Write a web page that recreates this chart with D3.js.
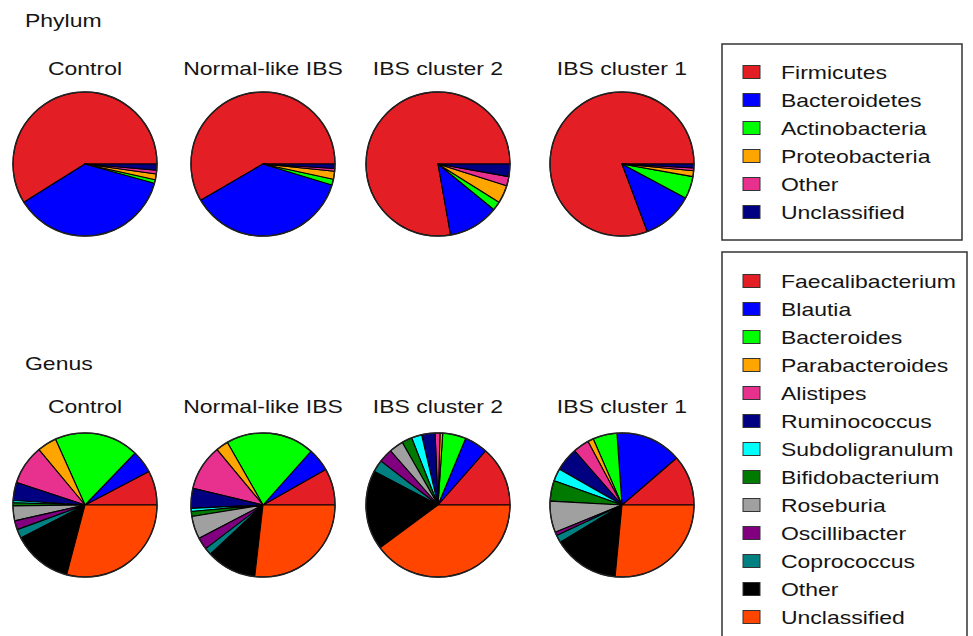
<!DOCTYPE html>
<html>
<head>
<meta charset="utf-8">
<script src="https://cdn.jsdelivr.net/npm/d3@7"></script>
<style>
  html, body { margin: 0; padding: 0; background: #fff; }
  svg { display: block; font-family: "Liberation Sans", Arial, sans-serif; }
</style>
</head>
<body>
<svg id="chart" width="973" height="636"></svg>
<script>
// ---- Data ----
const groups = ["Control", "Normal-like IBS", "IBS cluster 2", "IBS cluster 1"];

const phylumNames = ["Firmicutes", "Bacteroidetes", "Actinobacteria", "Proteobacteria", "Other", "Unclassified"];
const phylumColors = ["#e31e24", "#0000ff", "#00ff00", "#ffa500", "#e8318f", "#000080"];

const phylumControl    = [58.9, 36.8, 0.8, 1.3, 0.8, 1.4];
const phylumNormalLike = [58.4, 36.9, 1.3, 1.8, 0.6, 1.0];
const phylumCluster2   = [77.8, 11.3, 2.0, 4.0, 2.1, 2.8];
const phylumCluster1   = [80.7, 11.5, 5.0, 1.3, 0.6, 0.9];

const genusNames = ["Faecalibacterium", "Blautia", "Bacteroides", "Parabacteroides", "Alistipes",
  "Ruminococcus", "Subdoligranulum", "Bifidobacterium", "Roseburia", "Oscillibacter",
  "Coprococcus", "Other", "Unclassified"];
const genusColors = ["#e31e24", "#0000ff", "#00ff00", "#ffa500", "#e8318f", "#000080",
  "#00ffff", "#007a00", "#a0a0a0", "#800080", "#008080", "#000000", "#ff4500"];

const genusControl    = [7.6, 5.1, 18.7, 4.3, 8.8, 4.0, 0.5, 0.7, 3.3, 2.0, 2.0, 13.2, 28.8];
const genusNormalLike = [8.2, 5.2, 19.8, 2.8, 10.2, 4.5, 0.7, 1.1, 5.1, 2.7, 1.6, 11.2, 26.8];
const genusCluster2   = [13.5, 5.2, 5.2, 0.6, 1.1, 3.0, 2.3, 2.3, 3.2, 3.1, 2.7, 17.8, 39.8];
const genusCluster1   = [11.3, 14.8, 5.4, 1.3, 3.6, 5.3, 2.8, 4.6, 7.0, 0.8, 1.7, 14.8, 26.5];

const phylumData = [phylumControl, phylumNormalLike, phylumCluster2, phylumCluster1];
const genusData  = [genusControl, genusNormalLike, genusCluster2, genusCluster1];

// ---- Layout ----
const svg = d3.select("#chart");
const pieCentersX = [85, 263, 438, 622];
const rowY = { phylum: 164, genus: 505 };
const R = 72;
const FS = 19, SX = 1.21;

const xScale = d3.scaleOrdinal().domain(groups).range(pieCentersX);

// counter-clockwise from 3 o'clock (R-style pie)
const pie = d3.pie().sort(null).value(d => d)
  .startAngle(Math.PI / 2).endAngle(Math.PI / 2 - 2 * Math.PI);
const arc = d3.arc().innerRadius(0).outerRadius(R);

function label(x, y, str, anchor, dy) {
  const t = svg.append("text")
    .attr("transform", `translate(${x},${y}) scale(${SX},1)`)
    .attr("font-size", FS).attr("fill", "#151515")
    .attr("text-anchor", anchor || "start").text(str);
  if (dy) t.attr("dy", dy);
  return t;
}

function drawRow(title, titleY, data, colors, cy, labelY) {
  label(25, titleY, title);
  groups.forEach((g, i) => {
    const cx = xScale(g);
    label(cx, labelY, g, "middle");
    const gp = svg.append("g").attr("transform", `translate(${cx},${cy})`);
    gp.selectAll("path").data(pie(data[i])).join("path")
      .attr("d", arc)
      .attr("fill", (d, j) => colors[j])
      .attr("stroke", "#000").attr("stroke-width", 1.1).attr("stroke-linejoin", "round");
    gp.append("circle").attr("r", R).attr("fill", "none")
      .attr("stroke", "#222").attr("stroke-width", 1.4);
  });
}

drawRow("Phylum", 27, phylumData, phylumColors, rowY.phylum, 75);
drawRow("Genus", 370, genusData, genusColors, rowY.genus, 413);

// ---- Legends ----
function drawLegend(names, colors, box, firstY, step) {
  svg.append("rect").attr("x", box.x).attr("y", box.y).attr("width", box.w).attr("height", box.h)
    .attr("fill", "none").attr("stroke", "#333").attr("stroke-width", 1.5);
  const yS = d3.scalePoint().domain(names).range([firstY, firstY + step * (names.length - 1)]);
  names.forEach((n, i) => {
    const y = yS(n);
    svg.append("rect").attr("x", 743).attr("y", y - 6.5).attr("width", 17).attr("height", 13)
      .attr("fill", colors[i]).attr("stroke", "#333").attr("stroke-width", 1);
    label(781, y, n, "start", "0.35em");
  });
}

drawLegend(phylumNames, phylumColors, { x: 722, y: 44, w: 240, h: 196 }, 72, 28);
drawLegend(genusNames, genusColors, { x: 722, y: 252, w: 245, h: 400 }, 281, 28);
</script>
</body>
</html>
